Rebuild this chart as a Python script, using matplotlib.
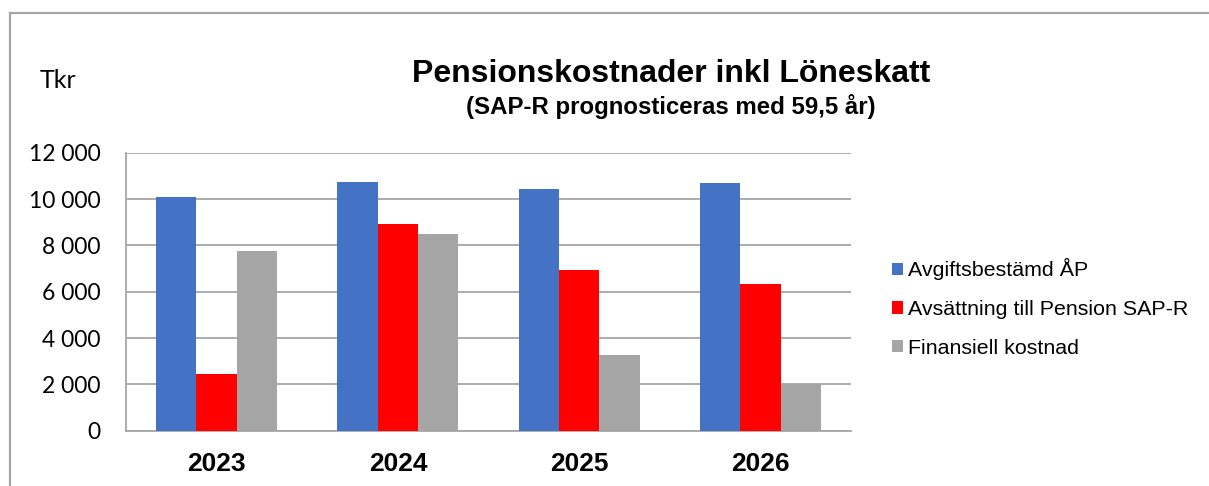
import matplotlib
matplotlib.use("Agg")
import matplotlib.pyplot as plt
from matplotlib.patches import Patch
from matplotlib.lines import Line2D
import numpy as np

years = ["2023", "2024", "2025", "2026"]
avgiftsbestamd = [10090, 10750, 10430, 10690]
avsattning = [2430, 8910, 6940, 6330]
finansiell = [7760, 8500, 3250, 2000]
series_names = ["Avgiftsbestämd ÅP", "Avsättning till Pension SAP-R", "Finansiell kostnad"]
colors = ["#4472C4", "#FF0000", "#A5A5A5"]
yticks = [0, 2000, 4000, 6000, 8000, 10000, 12000]
ytick_labels = ["0", "2 000", "4 000", "6 000", "8 000", "10 000", "12 000"]

W, H = 1209, 486
fig = plt.figure(figsize=(W / 100, H / 100), dpi=100)

def fx(px):
    return px / W

def fy(py):
    return 1 - py / H

ax = fig.add_axes([fx(126), fy(430.7), fx(851) - fx(126), fy(152.7) - fy(430.7)])

x = np.arange(len(years))
w = 0.2224
for i, (vals, c) in enumerate(zip([avgiftsbestamd, avsattning, finansiell], colors)):
    ax.bar(x + (i - 1) * w, vals, width=w, color=c, zorder=3, label=series_names[i])

ax.set_xlim(-0.5, 3.5)
ax.set_ylim(0, 12000)
ax.set_yticks(yticks)
ax.set_yticklabels(ytick_labels, fontfamily="Lato", fontsize=16.5)
ax.set_xticks(x)
ax.set_xticklabels(years, fontfamily="Liberation Sans", fontsize=19, fontweight="bold")
ax.tick_params(axis="both", length=0)
ax.tick_params(axis="y", pad=18.5)
ax.tick_params(axis="x", pad=15)
ax.yaxis.grid(True, color="#A6A6A6", linewidth=1.3, zorder=0)
ax.set_axisbelow(True)
for s in ["top", "right"]:
    ax.spines[s].set_visible(False)
ax.spines["left"].set_color("#A6A6A6")
ax.spines["left"].set_linewidth(1.3)
ax.spines["bottom"].set_color("#A6A6A6")
ax.spines["bottom"].set_linewidth(1.3)

# Titles
fig.text(fx(671), fy(82), "Pensionskostnader inkl Löneskatt", ha="center", va="baseline",
         fontfamily="Liberation Sans", fontsize=23, fontweight="bold")
fig.text(fx(671), fy(114), "(SAP-R prognosticeras med 59,5 år)", ha="center", va="baseline",
         fontfamily="Liberation Sans", fontsize=17.3, fontweight="bold")
fig.text(fx(40), fy(88), "Tkr", ha="left", va="baseline", fontfamily="Lato", fontsize=18)

# Legend
handles = [Patch(facecolor=c, edgecolor="none") for c in colors]
fig.legend(handles, series_names, loc="center left", bbox_to_anchor=(fx(892), fy(308)),
           frameon=False, prop={"family": "Liberation Sans", "size": 15.4},
           handlelength=0.5, handleheight=0.5, handletextpad=0.25, labelspacing=0.92,
           borderpad=0, borderaxespad=0)

# Chart border
fig.add_artist(Line2D([fx(9.5), fx(9.5)], [fy(12.7), fy(490)], color="#A6A6A6", linewidth=1.6))
fig.add_artist(Line2D([fx(9.5), fx(1212)], [fy(12.7), fy(12.7)], color="#A6A6A6", linewidth=1.6))

fig.savefig("out.png", dpi=100)
